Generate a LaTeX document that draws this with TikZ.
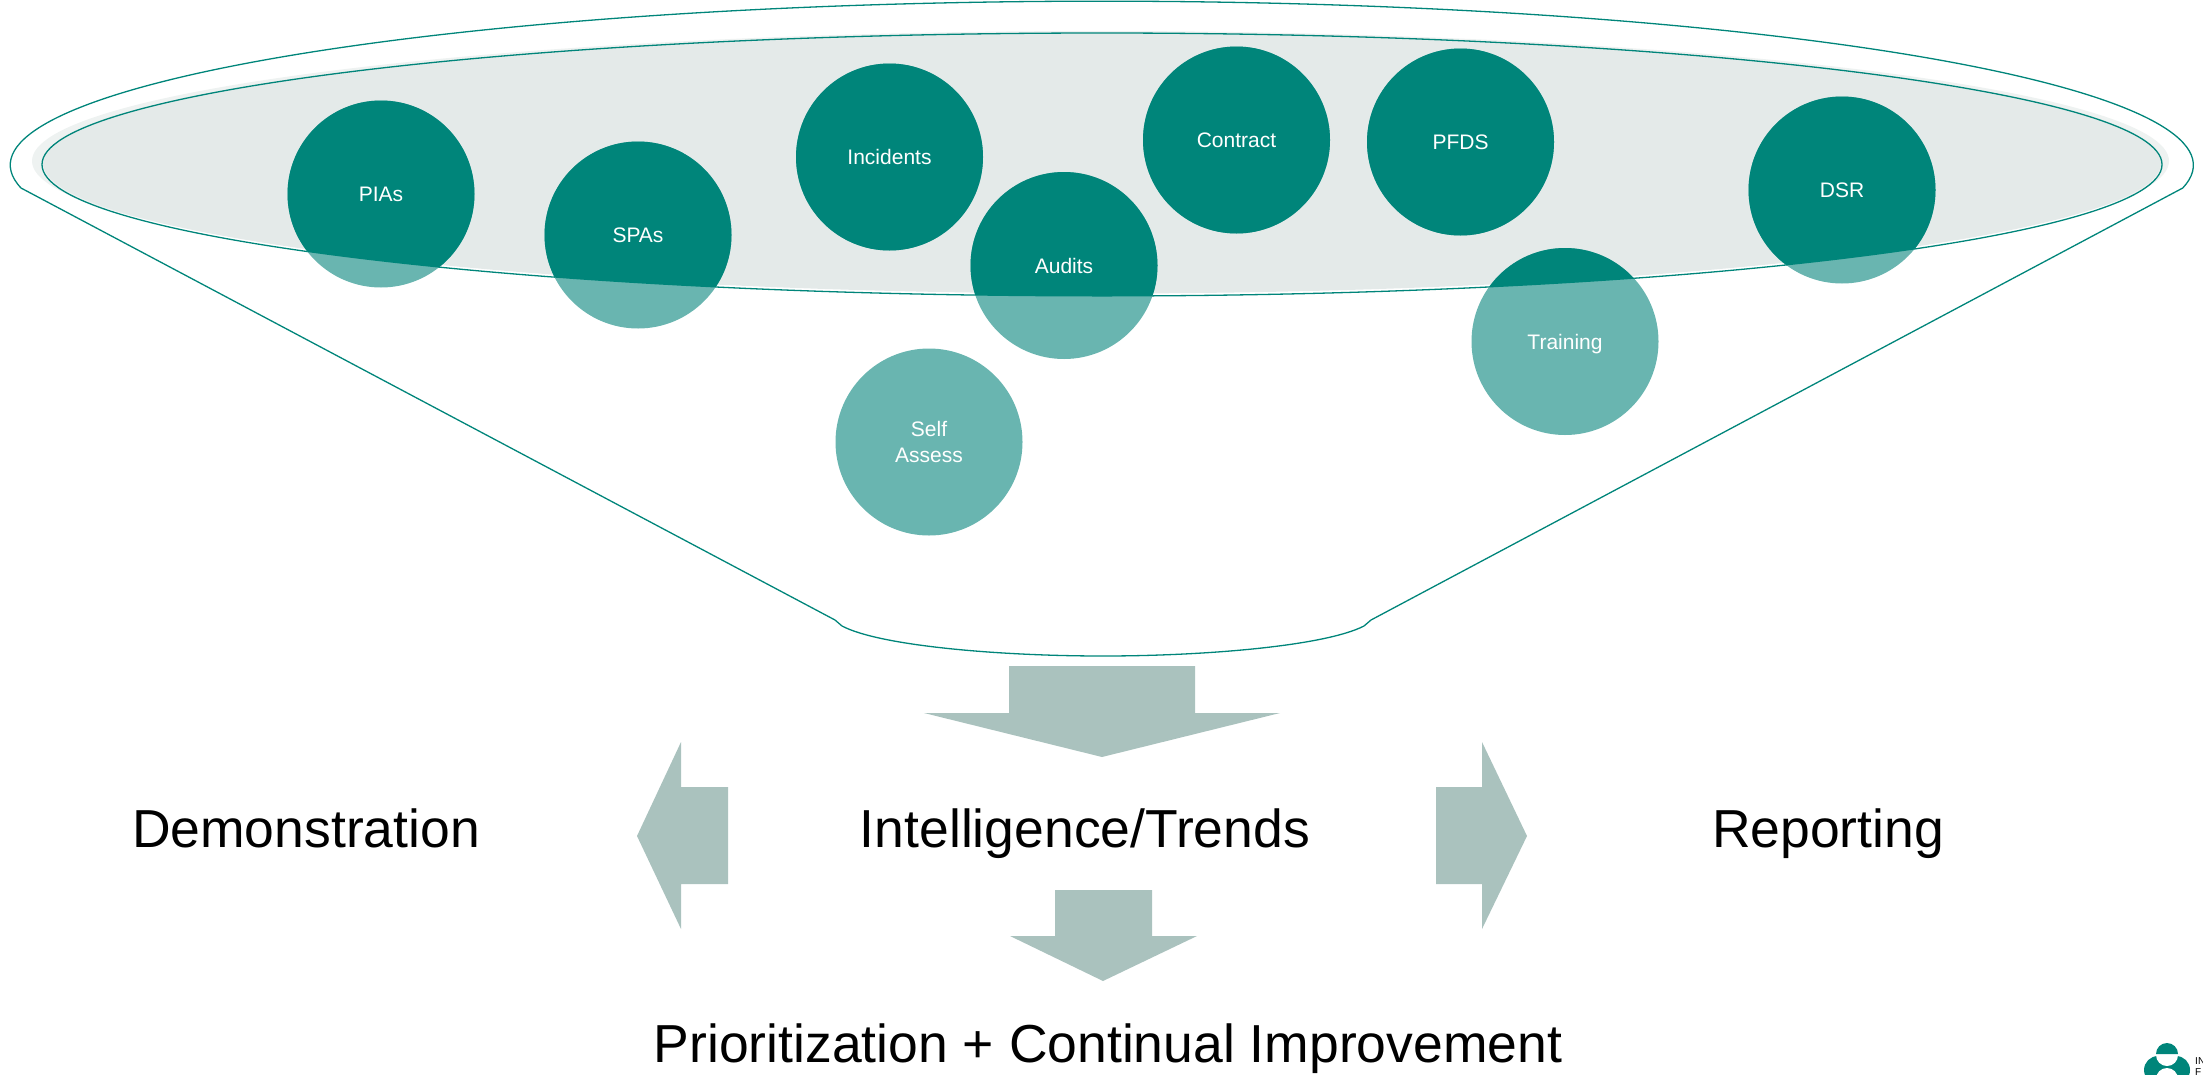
\documentclass[tikz,border=0pt]{standalone}
\usepackage{fontspec}
\setmainfont{Liberation Sans}
\definecolor{teal1}{HTML}{00857A}
\definecolor{teal2}{HTML}{69B5B0}
\definecolor{arrowgray}{HTML}{AAC2BE}
\definecolor{bowl}{HTML}{E4EAE9}
\definecolor{fringe}{HTML}{EEF2F1}
\tikzset{
  disc/.style={circle,fill=teal2,draw=none,minimum size=187pt,inner sep=0pt},
  disclabel/.style={text=white,align=center,font=\fontsize{21}{26}\selectfont,inner sep=0pt},
  biglabel/.style={text=black,anchor=base,inner sep=0pt,font=\fontsize{53.5}{60}\selectfont},
  rim/.style={draw=teal1,line width=1.3pt,line join=round},
  bigarrow/.style={fill=arrowgray,draw=none}
}
\begin{document}
\begin{tikzpicture}[x=1pt,y=-1pt]
\useasboundingbox (0,0) rectangle (2203,1074);
% bowl fill
\fill[fringe] (1100.5,161) ellipse [x radius=1068.5pt,y radius=130pt];
\fill[bowl] (1102,163) ellipse [x radius=1059pt,y radius=130.5pt];
\draw[rim] (1102,164.5) ellipse [x radius=1060pt,y radius=131.5pt];
% funnel outline
\draw[rim] (835,620) -- (21,188) arc [start angle=188,end angle=-8,x radius=1091.5pt,y radius=164pt]
  -- (1371,620) -- (1364,626)
  .. controls (1325,646) and (1205,656) .. (1103,656)
  .. controls (1000,656) and (880,646) .. (842,626) -- cycle;
% discs
\node[disc] (pias) at (381,194) {};
\node[disc] (spas) at (638,235) {};
\node[disc] (incidents) at (889.5,157) {};
\node[disc] (audits) at (1064,265.5) {};
\node[disc] (contract) at (1236.5,140) {};
\node[disc] (pfds) at (1460.5,142) {};
\node[disc] (dsr) at (1842,190) {};
\node[disc] (training) at (1565,341.5) {};
\node[disc] (selfassess) at (929,442) {};
\begin{scope}
\clip (1102,165) ellipse [x radius=1060pt,y radius=131.5pt];
\foreach \d in {pias,spas,incidents,audits,contract,pfds,dsr,training,selfassess}
  \fill[teal1] (\d) circle [radius=93.5pt];
\end{scope}
\node[disclabel] (piastext) at (pias) {PIAs};
\node[disclabel] (spastext) at (spas) {SPAs};
\node[disclabel] (incidentstext) at (incidents) {Incidents};
\node[disclabel] (auditstext) at (audits) {Audits};
\node[disclabel] (contracttext) at (contract) {Contract};
\node[disclabel] (pfdstext) at (pfds) {PFDS};
\node[disclabel] (dsrtext) at (dsr) {DSR};
\node[disclabel,yshift=-2.5pt] (trainingtext) at (training) {Training};
\node[disclabel] (selfassesstext) at (selfassess) {Self\\Assess};
% arrows
\fill[bigarrow] (1009,666) -- (1195,666) -- (1195,713) -- (1280,713) -- (1102,757) -- (924,713) -- (1009,713) -- cycle;
\fill[bigarrow] (728,787) -- (681,787) -- (681,742) -- (637,836) -- (681,929) -- (681,884) -- (728,884) -- cycle;
\fill[bigarrow] (1436,787) -- (1482,787) -- (1482,742) -- (1527,836) -- (1482,929) -- (1482,884) -- (1436,884) -- cycle;
\fill[bigarrow] (1055,890) -- (1152,890) -- (1152,936) -- (1197,936) -- (1103,981) -- (1010,936) -- (1055,936) -- cycle;
% big labels
\node[biglabel] (demo) at (306,847) {Demonstration};
\node[biglabel] (intel) at (1085,847) {Intelligence/Trends};
\node[biglabel] (report) at (1828,847) {Reporting};
\node[biglabel] (prior) at (1108,1062) {Prioritization + Continual Improvement};
% logo
\begin{scope}
\clip (2140,1040) rectangle (2194,1074);
\fill[teal1] (2158,1070) circle [radius=14pt];
\fill[teal1] (2176,1070) circle [radius=14pt];
\fill[white] (2167,1055) circle [radius=11pt];
\fill[teal1] (2156,1054) arc [start angle=180,end angle=0,radius=11pt] -- cycle;
\fill[white] (2167,1079) circle [radius=11pt];
\end{scope}
\node[anchor=base west,inner sep=0pt,font=\fontsize{10}{10}\selectfont] (logo1) at (2195,1064) {IN};
\node[anchor=base west,inner sep=0pt,font=\fontsize{10}{10}\selectfont] (logo2) at (2195,1075) {F};
\end{tikzpicture}
\end{document}
